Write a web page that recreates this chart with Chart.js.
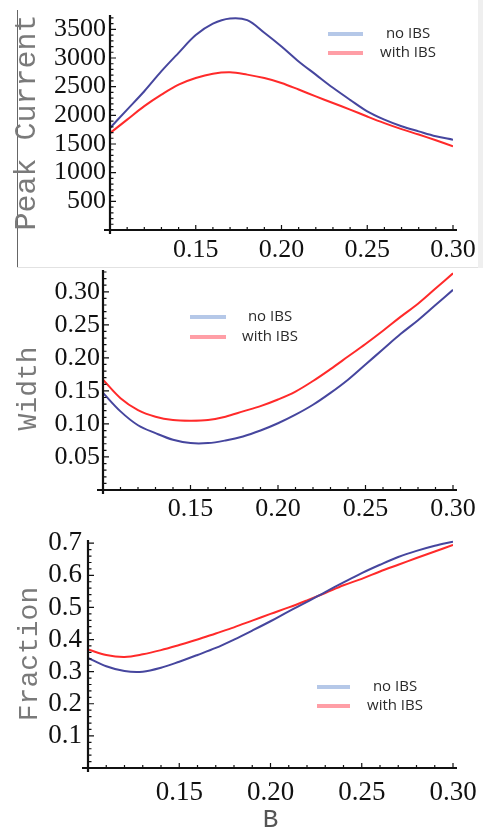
<!DOCTYPE html>
<html>
<head>
<meta charset="utf-8">
<script src="https://cdn.jsdelivr.net/npm/chart.js@4.4.1/dist/chart.umd.min.js"></script>
<style>
html, body { margin: 0; padding: 0; background: #fff; }
body { width: 483px; height: 831px; position: relative; overflow: hidden; }
.panel { position: absolute; left: 0; width: 483px; }
#p1 { top: 0; height: 268px; }
#p2 { top: 262px; height: 262px; }
#p3 { top: 518px; height: 315px; }
.edge-left { position: absolute; left: 17px; top: 10px; width: 1px; height: 258px; background: #666; }
.edge-bottom { position: absolute; left: 17px; top: 267px; width: 461px; height: 1px; background: #e2e2e2; }
.edge-right { position: absolute; left: 478px; top: 0; width: 5px; height: 268px; background: #efefef; }
</style>
</head>
<body>
<div class="edge-left"></div>
<div class="edge-bottom"></div>
<div class="edge-right"></div>
<div class="panel" id="p1"><canvas id="peakChart"></canvas></div>
<div class="panel" id="p2"><canvas id="widthChart"></canvas></div>
<div class="panel" id="p3"><canvas id="fractionChart"></canvas></div>
<script>
// valores de B (eixo x comum aos 3 graficos)
const bValues = [0.10, 0.11, 0.12, 0.13, 0.14, 0.15, 0.16, 0.17, 0.18, 0.19, 0.20,
                 0.21, 0.22, 0.23, 0.24, 0.25, 0.26, 0.27, 0.28, 0.29, 0.30];
const seriesLabels = ['no IBS', 'with IBS'];

// Peak Current
const peakNoIBS   = [1780, 2100, 2420, 2770, 3090, 3400, 3600, 3690, 3660, 3440, 3200,
                     2940, 2710, 2480, 2270, 2070, 1925, 1810, 1720, 1635, 1575];
const peakWithIBS = [1690, 1925, 2160, 2360, 2535, 2650, 2725, 2750, 2710, 2650, 2565,
                     2450, 2330, 2215, 2100, 1980, 1865, 1760, 1665, 1565, 1460];

// Width
const widthNoIBS   = [0.147, 0.119, 0.098, 0.086, 0.076, 0.071, 0.071, 0.075, 0.081, 0.090, 0.101,
                      0.114, 0.129, 0.147, 0.167, 0.190, 0.213, 0.236, 0.257, 0.280, 0.303];
const widthWithIBS = [0.167, 0.139, 0.121, 0.111, 0.106, 0.105, 0.106, 0.111, 0.119, 0.127, 0.137,
                      0.149, 0.165, 0.183, 0.202, 0.221, 0.241, 0.262, 0.282, 0.305, 0.328];

// Fraction
const fractionNoIBS   = [0.343, 0.317, 0.302, 0.300, 0.312, 0.331, 0.352, 0.374, 0.400, 0.428, 0.457,
                         0.488, 0.517, 0.548, 0.578, 0.607, 0.633, 0.657, 0.676, 0.692, 0.705];
const fractionWithIBS = [0.369, 0.352, 0.346, 0.354, 0.367, 0.383, 0.400, 0.419, 0.438, 0.459, 0.480,
                         0.500, 0.522, 0.545, 0.569, 0.589, 0.612, 0.633, 0.654, 0.674, 0.695];

// ticks com rotulo
const xTicks = [0.15, 0.20, 0.25, 0.30];
const peakTicks = [500, 1000, 1500, 2000, 2500, 3000, 3500];
const widthTicks = [0.05, 0.10, 0.15, 0.20, 0.25, 0.30];
const fractionTicks = [0.1, 0.2, 0.3, 0.4, 0.5, 0.6, 0.7];

const lineColors = ['#46469e', '#ff2a2a'];
const legendColors = ['#b5c8e8', '#ff9ea6'];

const serif = '"Liberation Serif", "Times New Roman", serif';
const mono = '"Liberation Mono", "Courier New", monospace';

function pts(ys) {
    return bValues.map((b, i) => ({ x: b, y: ys[i] }));
}

// eixos estilo Mathematica: linha preta com ticks menores para dentro
const mmaAxes = {
    id: 'mmaAxes',
    afterDraw(chart, args, opts) {
        const ctx = chart.ctx, a = chart.chartArea;
        const xs = chart.scales.x, ys = chart.scales.y;
        ctx.save();
        ctx.strokeStyle = '#111';
        ctx.lineWidth = 1.2;
        ctx.beginPath();
        for (let i = 0; ; i++) {
            const v = Math.round((xs.min + i * opts.xMinor) * 1e6) / 1e6;
            if (v > xs.max + 1e-9) break;
            const r = v / opts.xMajor;
            const len = Math.abs(r - Math.round(r)) < 1e-6 ? 5 : 3;
            const px = xs.getPixelForValue(v);
            ctx.moveTo(px, a.bottom);
            ctx.lineTo(px, a.bottom - len);
        }
        for (let i = 1; ; i++) {
            const v = Math.round((ys.min + i * opts.yMinor) * 1e6) / 1e6;
            if (v > ys.max + 1e-9) break;
            const r = v / opts.yMajor;
            const len = Math.abs(r - Math.round(r)) < 1e-6 ? 6 : 3.5;
            const py = ys.getPixelForValue(v);
            ctx.moveTo(a.left, py);
            ctx.lineTo(a.left + len, py);
        }
        ctx.stroke();
        ctx.lineWidth = 2.2;
        ctx.beginPath();
        ctx.moveTo(a.left - 6, a.bottom);
        ctx.lineTo(a.right + 4, a.bottom);
        ctx.moveTo(a.left, a.top);
        ctx.lineTo(a.left, a.bottom + 4);
        ctx.stroke();
        ctx.restore();
    }
};

// legenda desenhada dentro da area do grafico
const ibsLegend = {
    id: 'ibsLegend',
    afterDraw(chart, args, opts) {
        const ctx = chart.ctx;
        ctx.save();
        ctx.font = '15px "Open Sans", sans-serif';
        ctx.fillStyle = '#2a2a2a';
        ctx.textAlign = 'center';
        ctx.textBaseline = 'middle';
        chart.data.datasets.forEach((ds, i) => {
            const y = opts.y + i * opts.rowGap;
            ctx.strokeStyle = legendColors[i];
            ctx.lineWidth = 4;
            ctx.beginPath();
            ctx.moveTo(opts.x, y);
            ctx.lineTo(opts.x + opts.len, y);
            ctx.stroke();
            ctx.fillText(ds.label, opts.textX, y);
        });
        ctx.restore();
    }
};

function makeChart(id, cfg) {
    return new Chart(document.getElementById(id), {
        type: 'line',
        data: {
            datasets: [
                { label: seriesLabels[0], data: pts(cfg.noIBS), borderColor: lineColors[0] },
                { label: seriesLabels[1], data: pts(cfg.withIBS), borderColor: lineColors[1] }
            ]
        },
        options: {
            responsive: true,
            maintainAspectRatio: false,
            animation: false,
            events: [],
            layout: { autoPadding: false, padding: cfg.padding },
            elements: {
                point: { radius: 0 },
                line: { borderWidth: 2, tension: 0.35, fill: false }
            },
            plugins: {
                legend: { display: false },
                tooltip: { enabled: false },
                mmaAxes: { xMinor: 0.01, xMajor: 0.05, yMinor: cfg.yMinor, yMajor: cfg.yMajor },
                ibsLegend: cfg.legend
            },
            scales: {
                x: {
                    type: 'linear',
                    min: 0.10,
                    max: 0.30,
                    grid: { display: false, drawTicks: false },
                    border: { display: false },
                    afterBuildTicks(s) { s.ticks = xTicks.map(v => ({ value: v })); },
                    ticks: {
                        padding: cfg.xPad,
                        color: '#111',
                        font: { family: serif, size: cfg.xFont },
                        maxRotation: 0,
                        autoSkip: false,
                        callback: v => v.toFixed(2)
                    },
                    title: cfg.xTitle || { display: false },
                    afterFit(s) {
                        s.height = cfg.xHeight;
                        s.paddingLeft = 0; s.paddingRight = 0;
                    }
                },
                y: {
                    min: 0,
                    max: cfg.yMax,
                    grid: { display: false, drawTicks: false },
                    border: { display: false },
                    afterBuildTicks(s) { s.ticks = cfg.yTicks.map(v => ({ value: v })); },
                    ticks: {
                        padding: cfg.yPad,
                        color: '#111',
                        font: { family: serif, size: cfg.yFont },
                        autoSkip: false,
                        callback: v => v.toFixed(cfg.yDigits)
                    },
                    title: {
                        display: true,
                        text: cfg.yTitle,
                        color: '#7a7a7a',
                        font: { family: mono, size: cfg.yTitleSize, lineHeight: 1.2 },
                        padding: { top: cfg.yTitlePad, bottom: 0 }
                    },
                    afterFit(s) {
                        s.width = cfg.yWidth;
                        s.paddingTop = 0; s.paddingBottom = 0;
                    }
                }
            }
        },
        plugins: [mmaAxes, ibsLegend]
    });
}

makeChart('peakChart', {
    noIBS: peakNoIBS, withIBS: peakWithIBS, yTicks: peakTicks,
    padding: { left: 0, right: 30, top: 15, bottom: 0 },
    yWidth: 110, xHeight: 38,
    yMax: 3750, yMajor: 500, yMinor: 100, yDigits: 0,
    yFont: 26, xFont: 26, yPad: 4, xPad: 5,
    yTitle: 'Peak Current', yTitleSize: 30, yTitlePad: 9,
    legend: { x: 328, len: 35, textX: 408, y: 34, rowGap: 19 }
});

makeChart('widthChart', {
    noIBS: widthNoIBS, withIBS: widthWithIBS, yTicks: widthTicks,
    padding: { left: 0, right: 30, top: 8, bottom: 0 },
    yWidth: 103, xHeight: 34,
    yMax: 0.333, yMajor: 0.05, yMinor: 0.01, yDigits: 2,
    yFont: 26, xFont: 26, yPad: 3, xPad: 4,
    yTitle: 'Width ', yTitleSize: 28, yTitlePad: 12,
    legend: { x: 190, len: 36, textX: 270, y: 55, rowGap: 20 }
});

makeChart('fractionChart', {
    noIBS: fractionNoIBS, withIBS: fractionWithIBS, yTicks: fractionTicks,
    padding: { left: 0, right: 30, top: 22, bottom: 0 },
    yWidth: 88, xHeight: 65,
    yMax: 0.71, yMajor: 0.1, yMinor: 0.02, yDigits: 1,
    yFont: 27, xFont: 27, yPad: 6, xPad: 9,
    yTitle: 'Fraction', yTitleSize: 28, yTitlePad: 13,
    xTitle: {
        display: true, text: 'B', color: '#555',
        font: { family: mono, size: 26, lineHeight: 1 },
        padding: { top: 0, bottom: 0 }
    },
    legend: { x: 317, len: 33, textX: 395, y: 169, rowGap: 19 }
});
</script>
</body>
</html>
